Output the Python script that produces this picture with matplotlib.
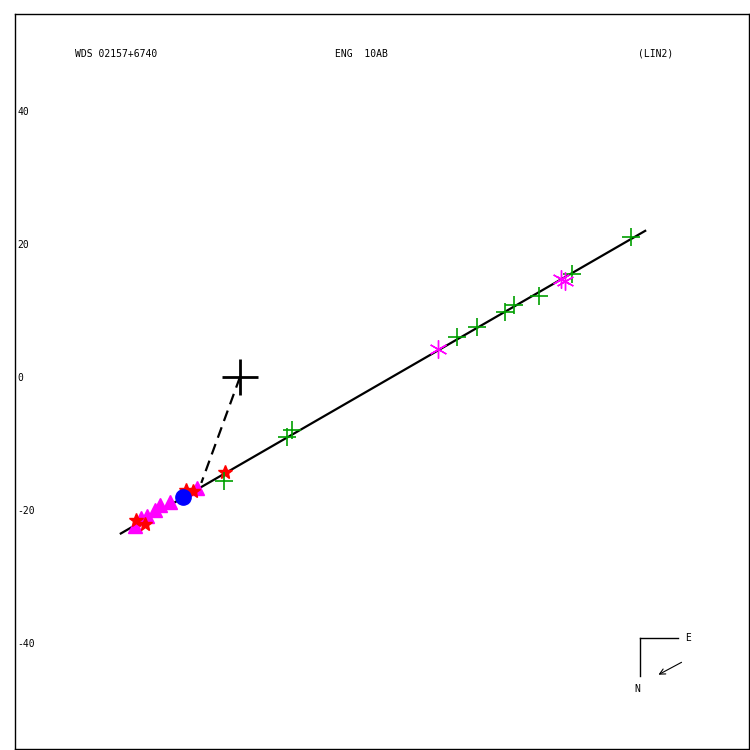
import matplotlib
matplotlib.use("Agg")
import matplotlib.pyplot as plt

# orbit line (fitted) and primary -> node link
line_x = [-17.9, 60.9]
line_y = [-23.5, 22.0]
dash_x = [0.0, -5.8]
dash_y = [0.0, -15.9]

# green plus: micrometer measures
plus_x = [58.8, 49.9, 45.0, 41.2, 39.8, 35.6, 32.6, 7.8, 7.1, -2.4]
plus_y = [21.1, 15.5, 12.2, 10.8, 9.8, 7.6, 6.0, -8.0, -9.0, -15.6]

# magenta asterisks
ast_x = [48.3, 48.8, 29.8]
ast_y = [14.7, 14.4, 4.2]

# red stars
star_x = [-2.3, -7.1, -8.1, -14.3, -15.6]
star_y = [-14.3, -17.1, -17.0, -22.0, -21.5]

# blue circle
circ_x = [-8.6]
circ_y = [-18.0]

# magenta triangles
tri_x = [-6.5, -10.5, -12.0, -12.8, -14.0, -14.8, -15.8]
tri_y = [-16.7, -18.8, -19.2, -20.0, -20.8, -21.1, -22.3]

yticks = [-40, -20, 0, 20, 40]

fig = plt.figure(figsize=(7.5, 7.5), dpi=100)
ax = fig.add_axes([15 / 750, 1 / 750, 734 / 750, 735 / 750])

ax.plot(line_x, line_y, color="black", lw=1.6, zorder=2)
ax.plot(dash_x, dash_y, color="black", lw=1.6, ls=(0, (5, 3)), zorder=2)

ax.plot(tri_x, tri_y, ls="none", marker="^", ms=10, color="magenta", zorder=3)
ax.plot(star_x, star_y, ls="none", marker="*", ms=10, color="red", zorder=3)
ax.plot(circ_x, circ_y, ls="none", marker="o", ms=11, color="blue", zorder=3)
ax.plot(plus_x, plus_y, ls="none", marker="+", ms=13, mew=1.2, color="#00a000", zorder=4)
ax.plot(ast_x, ast_y, ls="none", marker=(6, 2, 0), ms=13, mew=1, color="magenta", zorder=4)
ax.plot([0], [0], ls="none", marker="+", ms=26, mew=2, color="black", zorder=5)

ax.set_xlim(-33.8, 76.5)
ax.set_ylim(-55.9, 54.6)
ax.set_xticks([])
ax.set_yticks(yticks)
ax.set_yticklabels([str(v) for v in yticks], family="DejaVu Sans Mono", fontsize=7)
ax.tick_params(axis="y", length=0, pad=-2)
for lab in ax.get_yticklabels():
    lab.set_horizontalalignment("left")
for s in ax.spines.values():
    s.set_linewidth(1)

def px(x, y):
    return x / 750, 1 - y / 750

mono = dict(family="DejaVu Sans Mono", fontsize=7, va="center")
fig.text(*px(75, 54), "WDS 02157+6740", ha="left", **mono)
fig.text(*px(335, 54), "ENG  10AB", ha="left", **mono)
fig.text(*px(638, 54), "(LIN2)", ha="left", **mono)

# compass
fig.add_artist(plt.Line2D([640 / 750, 678 / 750], [1 - 638 / 750] * 2, color="black", lw=1))
fig.add_artist(plt.Line2D([640 / 750] * 2, [1 - 638 / 750, 1 - 676 / 750], color="black", lw=1))
fig.text(*px(688, 638), "E", ha="center", **mono)
fig.text(*px(637, 689), "N", ha="center", **mono)
fig.add_artist(matplotlib.patches.FancyArrowPatch(px(684, 661), px(656, 676),
                                                  transform=fig.transFigure,
                                                  arrowstyle="->", mutation_scale=10,
                                                  color="black", lw=0.8))

fig.savefig("out.png", dpi=100)
